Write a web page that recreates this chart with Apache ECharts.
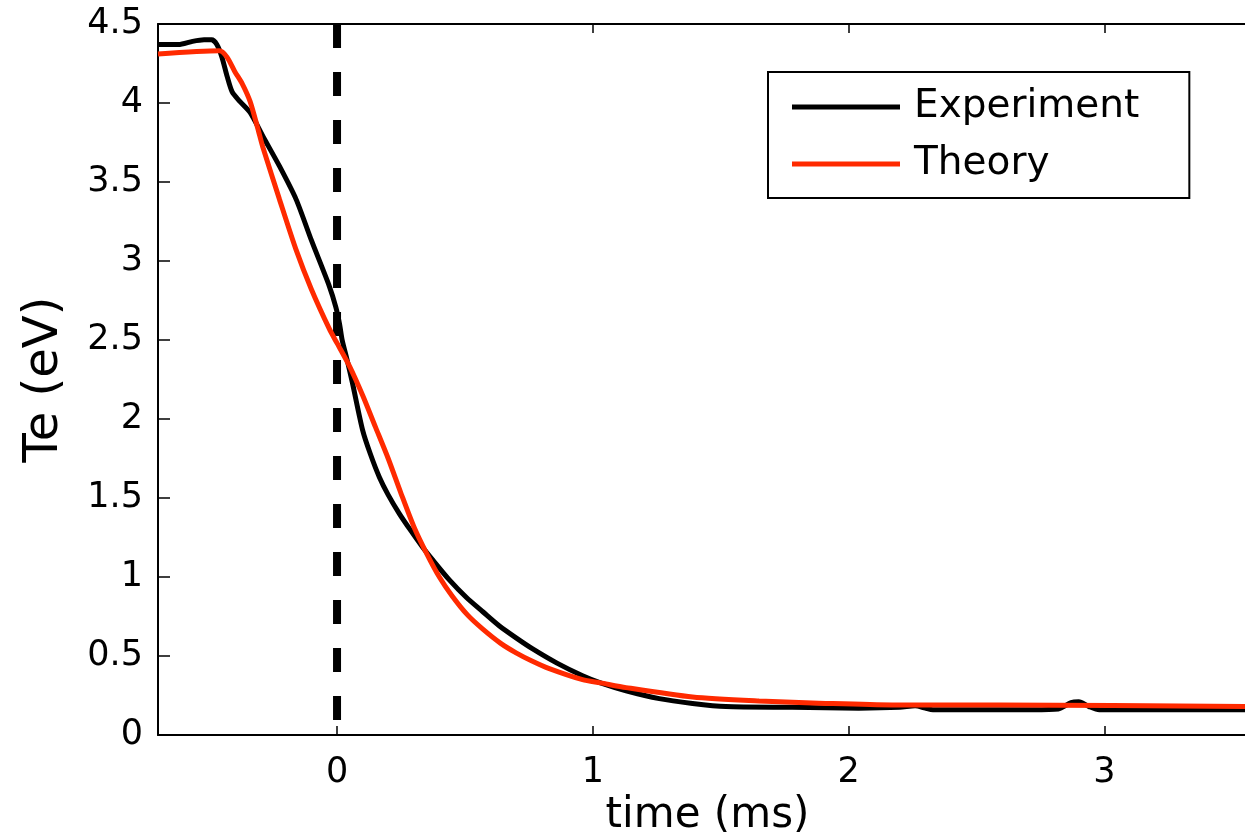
<!DOCTYPE html>
<html>
<head>
<meta charset="utf-8">
<script src="https://cdn.jsdelivr.net/npm/echarts@6/dist/echarts.min.js"></script>
<style>
  html, body { margin: 0; padding: 0; background: #fff; }
  #chart { width: 1245px; height: 833px; }
</style>
</head>
<body>
<div id="chart"></div>
<script>
// time (ms), Te (eV)
var experiment = [
  [-0.70, 4.37], [-0.62, 4.37], [-0.565, 4.39], [-0.52, 4.40], [-0.49, 4.40],
  [-0.47, 4.37], [-0.45, 4.29], [-0.43, 4.17], [-0.41, 4.07], [-0.38, 4.01],
  [-0.34, 3.94], [-0.29, 3.79], [-0.225, 3.60], [-0.16, 3.39], [-0.10, 3.13],
  [-0.03, 2.84], [-0.005, 2.71], [0.01, 2.60], [0.02, 2.50], [0.04, 2.37],
  [0.06, 2.23], [0.10, 1.93], [0.13, 1.78], [0.166, 1.63], [0.20, 1.52],
  [0.244, 1.40], [0.29, 1.29], [0.334, 1.19], [0.373, 1.11], [0.44, 0.98],
  [0.506, 0.87], [0.57, 0.78], [0.635, 0.69], [0.70, 0.615], [0.765, 0.545],
  [0.86, 0.455], [0.96, 0.375], [1.03, 0.33], [1.13, 0.28], [1.26, 0.23],
  [1.39, 0.20], [1.52, 0.18], [1.78, 0.175], [2.04, 0.17], [2.20, 0.175],
  [2.26, 0.185], [2.30, 0.17], [2.33, 0.16], [2.72, 0.16], [2.82, 0.165],
  [2.87, 0.205], [2.90, 0.21], [2.94, 0.18], [2.98, 0.16], [3.55, 0.16]
];
var theory = [
  [-0.70, 4.31], [-0.46, 4.33], [-0.43, 4.29], [-0.40, 4.20], [-0.37, 4.12],
  [-0.34, 4.01], [-0.31, 3.84], [-0.29, 3.72], [-0.225, 3.39], [-0.16, 3.07],
  [-0.10, 2.82], [-0.03, 2.57], [0.00, 2.48], [0.05, 2.33], [0.10, 2.15],
  [0.15, 1.95], [0.20, 1.75], [0.25, 1.53], [0.30, 1.32], [0.35, 1.15],
  [0.40, 1.00], [0.45, 0.88], [0.51, 0.76], [0.57, 0.67], [0.64, 0.58],
  [0.70, 0.52], [0.76, 0.47], [0.83, 0.42], [0.96, 0.35], [1.03, 0.33],
  [1.13, 0.30], [1.39, 0.24], [1.65, 0.215], [1.91, 0.20], [2.17, 0.19],
  [2.59, 0.19], [3.55, 0.18]
];
var marker = [[0, 4.5], [0, 0]];   // dashed line at t = 0
var xTicks = [0, 1, 2, 3];
var yTicks = [0, 0.5, 1, 1.5, 2, 2.5, 3, 3.5, 4, 4.5];

var chart = echarts.init(document.getElementById('chart'));
var font = 'DejaVu Sans';

var option = {
  animation: false,
  backgroundColor: '#fff',
  grid: { left: 158, top: 24, right: 0, bottom: 98, outerBoundsMode: 'none', containLabel: false },
  legend: {
    left: 768, top: 72,
    orient: 'vertical',
    icon: 'rect',
    itemWidth: 108, itemHeight: 5, itemGap: 13,
    padding: [13, 50, 12, 24],
    borderColor: '#000', borderWidth: 2,
    textStyle: { fontFamily: font, fontSize: 39, color: '#000', lineHeight: 44, padding: [0, 0, 0, 9] },
    data: ['Experiment', 'Theory']
  },
  xAxis: [{
    type: 'value', min: -0.7, max: 3.55,
    name: 'time (ms)', nameLocation: 'middle', nameGap: 55,
    nameTextStyle: { fontFamily: font, fontSize: 42, color: '#000', padding: [0, 0, 0, 12] },
    axisLine: { show: true, onZero: false, lineStyle: { color: '#000', width: 2 } },
    axisTick: { show: true, inside: true, length: 9, customValues: xTicks, lineStyle: { color: '#000', width: 1.5 } },
    axisLabel: { customValues: xTicks, fontFamily: font, fontSize: 35, color: '#000', margin: 20 },
    splitLine: { show: false }
  }, {
    type: 'value', position: 'top', min: -0.7, max: 3.55,
    axisLine: { show: true, onZero: false, lineStyle: { color: '#000', width: 2 } },
    axisTick: { show: true, inside: true, length: 9, customValues: xTicks, lineStyle: { color: '#000', width: 1.5 } },
    axisLabel: { show: false },
    splitLine: { show: false }
  }],
  yAxis: {
    type: 'value', min: 0, max: 4.5, interval: 0.5,
    name: 'Te (eV)', nameLocation: 'middle', nameGap: 89,
    nameTextStyle: { fontFamily: font, fontSize: 48, color: '#000' },
    axisLine: { show: true, onZero: false, lineStyle: { color: '#000', width: 2 } },
    axisTick: { show: true, inside: true, length: 12, lineStyle: { color: '#000', width: 1.5 } },
    axisLabel: {
      fontFamily: font, fontSize: 35, color: '#000', margin: 15,
      formatter: function (v) { return yTicks.indexOf(v) >= 0 ? String(v) : ''; }
    },
    splitLine: { show: false }
  },
  series: [{
    name: 'marker', type: 'line', data: marker, symbol: 'none',
    lineStyle: { color: '#000', width: 8, type: [24, 24], cap: 'butt' },
    silent: true, z: 1
  }, {
    name: 'Experiment', type: 'line', data: experiment, symbol: 'none',
    smooth: 0.25,
    itemStyle: { color: '#000' },
    lineStyle: { color: '#000', width: 5 }, z: 2
  }, {
    name: 'Theory', type: 'line', data: theory, symbol: 'none',
    smooth: 0.25,
    itemStyle: { color: '#ff2a00' },
    lineStyle: { color: '#ff2a00', width: 5 }, z: 3
  }]
};
chart.setOption(option);
</script>
</body>
</html>
